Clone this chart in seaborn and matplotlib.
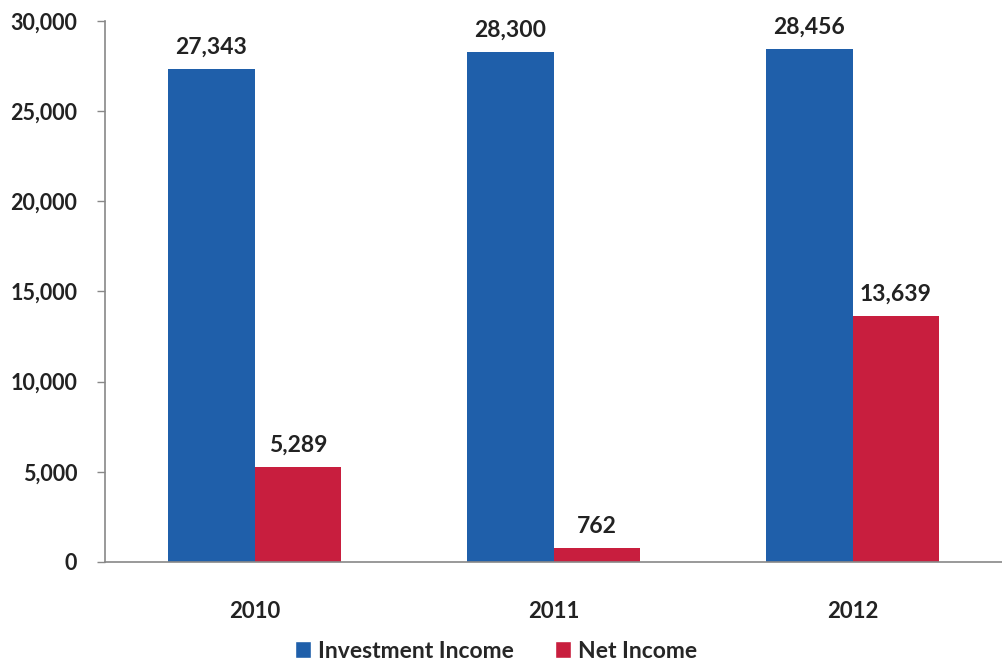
import matplotlib
matplotlib.use("Agg")
import matplotlib.pyplot as plt
import seaborn as sns
import pandas as pd
from matplotlib.patches import Patch

years = ["2010", "2011", "2012"]
investment_income = [27343, 28300, 28456]
net_income = [5289, 762, 13639]
series_names = ["Investment Income", "Net Income"]
yticks = [0, 5000, 10000, 15000, 20000, 25000, 30000]

df = pd.DataFrame({
    "Year": years * 2,
    "Value": investment_income + net_income,
    "Series": [series_names[0]] * 3 + [series_names[1]] * 3,
})

sns.set_theme(style="white")
plt.rcParams["font.family"] = ["Lato", "DejaVu Sans"]

colors = ["#1F5FAA", "#C81E3E"]
fig = plt.figure(figsize=(10.02, 6.64), dpi=100)
ax = fig.add_axes([105 / 1002, (664 - 562) / 664, 897 / 1002, (562 - 21) / 664])

sns.barplot(data=df, x="Year", y="Value", hue="Series", palette=colors,
            width=0.58, ax=ax, legend=False, saturation=1, linewidth=0, edgecolor="none")

for cont in ax.containers:
    labels = [f"{v:,.0f}" for v in cont.datavalues]
    ax.bar_label(cont, labels=labels, padding=8, fontsize=16.5, fontweight="bold", color="#222222")

ax.set_ylim(0, 30000)
ax.set_yticks(yticks)
ax.set_yticklabels([f"{v:,}" for v in yticks], fontsize=15.5, fontweight="bold", color="#222222")
ax.tick_params(axis="y", left=True, length=6, width=1, color="#888888", pad=14)
ax.tick_params(axis="x", bottom=False, labelsize=16, pad=22)
for lbl in ax.get_xticklabels():
    lbl.set_fontweight("bold")
    lbl.set_color("#222222")
ax.set_xlabel("")
ax.set_ylabel("")
for s in ["top", "right"]:
    ax.spines[s].set_visible(False)
ax.spines["left"].set_color("#888888")
ax.spines["bottom"].set_color("#888888")
ax.spines["left"].set_linewidth(1.2)
ax.spines["bottom"].set_linewidth(1.2)

handles = [Patch(facecolor=colors[0]), Patch(facecolor=colors[1])]
fig.legend(handles, series_names, loc="center", bbox_to_anchor=(496 / 1002, 1 - 651 / 664),
           ncol=2, frameon=False, handlelength=0.7, handleheight=0.7, handletextpad=0.3,
           columnspacing=1.8, prop={"size": 16.5, "weight": "bold"})

fig.savefig("out.png", dpi=100)
